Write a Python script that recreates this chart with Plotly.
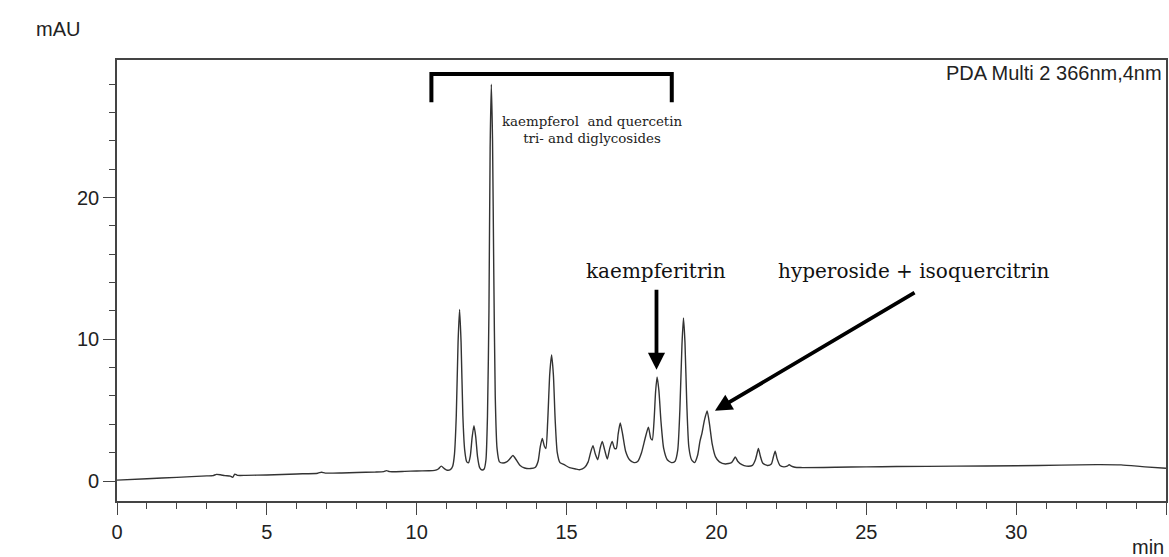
import plotly.graph_objects as go

# Retention time (min) and absorbance (mAU)
time_min = [
    0.0, 1.0, 2.0, 3.0, 3.2, 3.32, 3.45, 3.6, 3.78, 3.86, 3.93, 4.02, 4.3, 5.0, 6.0, 6.7, 6.82, 6.95,
    7.5, 8.0, 8.6, 8.9, 8.99, 9.1, 9.6, 10.0, 10.4, 10.6, 10.72, 10.82, 10.92, 11.02, 11.12,
    11.2, 11.26, 11.32, 11.38, 11.43, 11.48, 11.54, 11.6, 11.67, 11.73,
    11.79, 11.85, 11.91, 11.97, 12.03, 12.1, 12.18, 12.25,
    12.31, 12.36, 12.41, 12.45, 12.49, 12.53, 12.57, 12.62, 12.68, 12.76, 12.88, 13.0,
    13.1, 13.21, 13.32, 13.45, 13.6, 13.8, 13.95, 14.05,
    14.12, 14.19, 14.26, 14.31,
    14.37, 14.44, 14.5, 14.56, 14.62, 14.69, 14.78, 14.92, 15.1, 15.3, 15.45, 15.6, 15.72,
    15.8, 15.88, 15.96, 16.04,
    16.12, 16.19, 16.27, 16.36,
    16.44, 16.52, 16.6, 16.66,
    16.72, 16.79, 16.87, 16.97, 17.1, 17.25, 17.38, 17.5,
    17.62, 17.73, 17.81, 17.86,
    17.92, 17.97, 18.02, 18.08, 18.15, 18.24, 18.36, 18.5, 18.62,
    18.71, 18.78, 18.85, 18.9, 18.95, 19.01, 19.08, 19.17, 19.27,
    19.37, 19.45, 19.52, 19.6, 19.69, 19.77, 19.86, 19.97, 20.1, 20.3, 20.5,
    20.57, 20.63, 20.71, 20.85, 21.0, 21.2, 21.3,
    21.35, 21.4, 21.46, 21.55, 21.7, 21.83,
    21.9, 21.96, 22.02, 22.12, 22.25, 22.36, 22.43, 22.5, 22.62, 22.8,
    24.0, 25.0, 26.0, 28.0, 30.0, 31.5, 32.7, 33.5, 34.3, 35.0,
]
absorbance_mau = [
    0.06, 0.16, 0.26, 0.36, 0.38, 0.47, 0.44, 0.38, 0.34, 0.26, 0.49, 0.40, 0.40, 0.43, 0.50, 0.55, 0.62, 0.56,
    0.57, 0.60, 0.63, 0.66, 0.73, 0.66, 0.68, 0.71, 0.72, 0.75, 0.85, 1.05, 0.88, 0.76, 0.80,
    1.05, 1.9, 4.6, 9.8, 12.1, 9.8, 4.6, 2.2, 1.35, 1.3,
    1.8, 3.1, 3.9, 3.1, 1.7, 0.95, 0.78, 0.85,
    1.5, 4.5, 12.0, 23.5, 28.0, 24.0, 15.0, 6.0, 2.3, 1.35, 1.27, 1.35,
    1.55, 1.8, 1.5, 1.1, 0.92, 0.88, 0.95, 1.4,
    2.4, 3.0, 2.45, 2.3,
    4.2, 7.6, 8.9, 7.5, 4.3, 2.0, 1.3, 1.15, 0.95, 0.85, 0.8, 0.95, 1.35,
    2.0, 2.5, 1.9, 1.5,
    2.3, 2.8, 2.2, 1.55,
    2.3, 2.8, 2.3, 2.3,
    3.3, 4.1, 3.3, 2.1, 1.5, 1.3, 1.4, 2.0,
    3.0, 3.8, 3.0, 2.9,
    4.3, 6.3, 7.35, 6.4, 4.2, 2.3, 1.5, 1.3, 1.4,
    2.2, 5.0, 9.6, 11.5, 9.8, 5.5, 2.4, 1.5, 1.3,
    1.8, 2.8, 3.4, 4.3, 4.95, 4.0, 2.6, 1.7, 1.35, 1.2, 1.3,
    1.5, 1.7, 1.4, 1.15, 1.05, 1.1, 1.5,
    1.9, 2.3, 1.8, 1.25, 1.1, 1.2,
    1.7, 2.1, 1.6, 1.1, 1.0, 1.05, 1.15, 1.05, 0.97, 0.95,
    0.97, 1.0, 1.02, 1.05, 1.08, 1.12, 1.16, 1.14, 1.0, 0.9,
]

x_range = [0, 35]
y_range = [-1.41, 29.71]

fig = go.Figure()
fig.add_trace(go.Scatter(
    x=time_min, y=absorbance_mau, mode="lines",
    line=dict(color="#333333", width=1.4, shape="spline", smoothing=0.6),
    hoverinfo="x+y", showlegend=False,
))

# Bracket over the glycoside cluster
fig.add_trace(go.Scatter(
    x=[10.49, 10.49, 18.51, 18.51], y=[26.72, 28.72, 28.72, 26.72],
    mode="lines", line=dict(color="black", width=4),
    hoverinfo="skip", showlegend=False,
))

serif = "DejaVu Serif"
sans = "Liberation Sans, Arial, sans-serif"

annotations = [
    dict(text="kaempferol  and quercetin<br>tri- and diglycosides", x=0.4525, y=0.841,
         xref="paper", yref="paper", showarrow=False, xanchor="center", yanchor="middle",
         font=dict(family=serif, size=13.4, color="#222")),
    dict(text="kaempferitrin", x=18.0, y=14.8, xref="x", yref="y", showarrow=False,
         xanchor="center", yanchor="middle", font=dict(family=serif, size=20, color="#111")),
    dict(text="hyperoside + isoquercitrin", x=26.58, y=14.8, xref="x", yref="y", showarrow=False,
         xanchor="center", yanchor="middle", font=dict(family=serif, size=20, color="#111")),
    # arrows
    dict(x=18.0, y=7.85, ax=18.0, ay=13.6, xref="x", yref="y", axref="x", ayref="y",
         text="", showarrow=True, arrowhead=2, arrowsize=0.9, arrowwidth=3.8, arrowcolor="black"),
    dict(x=19.95, y=4.96, ax=26.66, ay=13.36, xref="x", yref="y", axref="x", ayref="y",
         text="", showarrow=True, arrowhead=2, arrowsize=0.9, arrowwidth=3.8, arrowcolor="black"),
    dict(text="PDA Multi 2 366nm,4nm", x=0.9985, y=1.0, xref="paper", yref="paper",
         showarrow=False, xanchor="right", yanchor="top", font=dict(family=sans, size=20, color="#222")),
    dict(text="mAU", x=-0.079, y=1.07, xref="paper", yref="paper", showarrow=False,
         xanchor="left", yanchor="middle", font=dict(family=sans, size=20, color="#222")),
    dict(text="min", x=1.0, y=-0.104, xref="paper", yref="paper", showarrow=False,
         xanchor="right", yanchor="middle", font=dict(family=sans, size=20, color="#222")),
]

axis_common = dict(
    showline=True, linecolor="#444", linewidth=1.6, mirror=True,
    ticks="outside", ticklen=12, tickwidth=1.3, tickcolor="#444",
    showgrid=False, zeroline=False,
    tickfont=dict(family=sans, size=20, color="#222"),
)

fig.update_layout(
    width=1169, height=557,
    margin=dict(l=117, r=1, t=60, b=56),
    paper_bgcolor="white", plot_bgcolor="white",
    xaxis=dict(range=x_range, tickmode="linear", tick0=0, dtick=5,
               minor=dict(ticks="outside", ticklen=6, tickwidth=1.2, tickcolor="#444", dtick=1, showgrid=False),
               **axis_common),
    yaxis=dict(range=y_range, tickmode="linear", tick0=0, dtick=10,
               minor=dict(ticks="outside", ticklen=6, tickwidth=1.2, tickcolor="#444", dtick=2, showgrid=False),
               **axis_common),
    annotations=annotations,
)

fig.write_html("out.html", config={"displayModeBar": False},
               post_script="document.body.style.margin='0';document.body.style.overflow='hidden';")
